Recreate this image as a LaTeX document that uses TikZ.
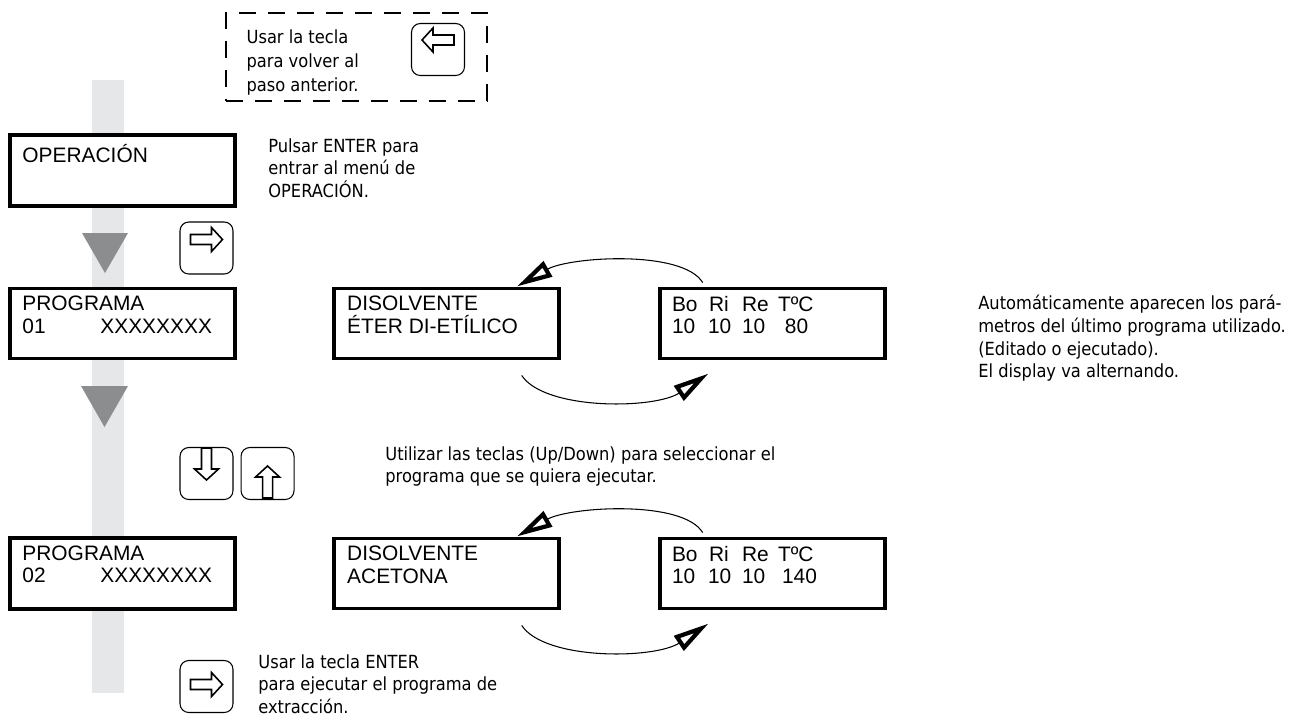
\documentclass[tikz,border=0pt]{standalone}
\usepackage{fontspec}
\usepackage{tikz}
\usetikzlibrary{arrows.meta}
\usetikzlibrary{positioning}
\newfontfamily\lcdfont{Liberation Sans}
\newfontfamily\notefont{DejaVu Sans Condensed}
\definecolor{bargray}{HTML}{E6E7E8}
\definecolor{stepgray}{HTML}{8C8D8F}

\tikzset{
  lcd/.style={draw, fill=white, line width=2.2pt, minimum width=4.5cm, minimum height=1.4cm, inner sep=0pt},
  lcdtext/.style={anchor=north west, inner sep=0pt, align=left, font=\lcdfont\fontsize{11.9}{13}\selectfont},
  note/.style={anchor=north west, inner sep=0pt, align=left, font=\notefont\fontsize{10.3}{12.9}\selectfont},
  keycap/.style={draw, rounded corners=5pt, line width=0.6pt, minimum width=1.06cm, minimum height=1.04cm, inner sep=0pt},
  hint/.style={draw, line width=0.9pt, dash pattern=on 9.5pt off 7pt, minimum width=5.22cm, minimum height=1.76cm},
  swap/.style={line width=0.6pt, -{Triangle[open, length=0.72cm, width=0.34cm, line width=2.4pt]}},
  pics/keyarrow/.style={code={
    \draw[line width=0.9pt, fill=white, rotate=#1] (-16,-5) -- (5,-5) -- (5,-12) -- (16,0) -- (5,12) -- (5,5) -- (-16,5) -- cycle;}}
}

\begin{document}
\begin{tikzpicture}[x=0.02cm, y=-0.02cm]
  \useasboundingbox (0,0) rectangle (1295,724);

  % bar with the two steps
  \fill[bargray] (92,80) rectangle (124,693);
  \fill[stepgray] (82,233) -- (128,233) -- (105,273) -- cycle;
  \fill[stepgray] (81,386) -- (128,386) -- (104.5,427) -- cycle;

  % hint
  \node[hint] (hint) at (356.5,57) {};
  \node[note, font=\notefont\fontsize{10.3}{13.6}\selectfont] (hinttxt) at ([shift={(21,17)}]hint.north west) {Usar la tecla\\para volver al\\paso anterior.};
  \node[keycap] (back) at (438,49.5) {};
  \pic at ([shift={(0,-9.5)}]back.center) {keyarrow=180};

  % displays
  \node[lcd, minimum height=1.42cm] (oper) at (122.5,170.5) {};
  \node[lcd] (prog1) at (122.5,323.5) {};
  \node[lcd, right=1.9cm of prog1] (solv1) {};
  \node[lcd, right=1.94cm of solv1] (param1) {};
  \node[lcd, minimum height=1.42cm] (prog2) at (122.5,573.5) {};
  \node[lcd, right=1.9cm of prog2] (solv2) {};
  \node[lcd, right=1.94cm of solv2] (param2) {};

  \node[lcdtext] (opertxt) at ([shift={(14,11)}]oper.north west) {OPERACIÓN};
  \node[lcdtext] (prog1txt) at ([shift={(14,9)}]prog1.north west) {PROGRAMA\\\makebox[1.56cm][l]{01}XXXXXXXX};
  \node[lcdtext] (solv1txt) at ([shift={(15,9)}]solv1.north west) {DISOLVENTE\\ÉTER DI-ETÍLICO};
  \node[lcdtext] (param1txt) at ([shift={(14,9)}]param1.north west) {\makebox[0.74cm][l]{Bo}\makebox[0.66cm][l]{Ri}\makebox[0.72cm][l]{Re}TºC\\
    \makebox[0.72cm][l]{10}\makebox[0.68cm][l]{10}\makebox[0.86cm][l]{10}80};
  \node[lcdtext] (prog2txt) at ([shift={(14,9)}]prog2.north west) {PROGRAMA\\\makebox[1.56cm][l]{02}XXXXXXXX};
  \node[lcdtext] (solv2txt) at ([shift={(15,9)}]solv2.north west) {DISOLVENTE\\ACETONA};
  \node[lcdtext] (param2txt) at ([shift={(14,9)}]param2.north west) {\makebox[0.74cm][l]{Bo}\makebox[0.66cm][l]{Ri}\makebox[0.72cm][l]{Re}TºC\\
    \makebox[0.72cm][l]{10}\makebox[0.68cm][l]{10}\makebox[0.8cm][l]{10}140};

  % keys
  \node[keycap] (enter1) at (206.5,248) {};
  \pic at ([shift={(0,-8.5)}]enter1.center) {keyarrow=0};
  \node[keycap] (down) at (206.5,473.5) {};
  \pic at ([shift={(0,-9.5)}]down.center) {keyarrow=-90};
  \node[keycap, right=0.14cm of down] (up) {};
  \pic at ([shift={(0,8.5)}]up.center) {keyarrow=90};
  \node[keycap] (enter2) at (206.5,686.5) {};
  \pic at ([shift={(0,-2)}]enter2.center) {keyarrow=0};

  % alternating displays
  \draw[swap] ([shift={(45,-4)}]param1.north west) .. controls +(-20,-33) and +(53,-30) .. ([shift={(-44,0)}]solv1.north east);
  \draw[swap] ([shift={(-39,15)}]solv1.south east) .. controls +(23,35) and +(-54,36) .. ([shift={(51,13)}]param1.south west);
  \draw[swap] ([shift={(45,-4)}]param2.north west) .. controls +(-20,-33) and +(53,-30) .. ([shift={(-44,0)}]solv2.north east);
  \draw[swap] ([shift={(-39,15)}]solv2.south east) .. controls +(23,35) and +(-54,36) .. ([shift={(51,13)}]param2.south west);

  % notes
  \node[note] (enternote) at (268,138) {Pulsar ENTER para\\entrar al menú de\\OPERACIÓN.};
  \node[note] (shownote) at (978,295) {Automáticamente aparecen los pará-\\metros del último programa utilizado.\\(Editado o ejecutado).\\El display va alternando.};
  \node[note] (selnote) at (385,446) {Utilizar las teclas (Up/Down) para seleccionar el\\programa que se quiera ejecutar.};
  \node[note] (runnote) at (258,654) {Usar la tecla ENTER\\para ejecutar el programa de\\extracción.};
\end{tikzpicture}
\end{document}
